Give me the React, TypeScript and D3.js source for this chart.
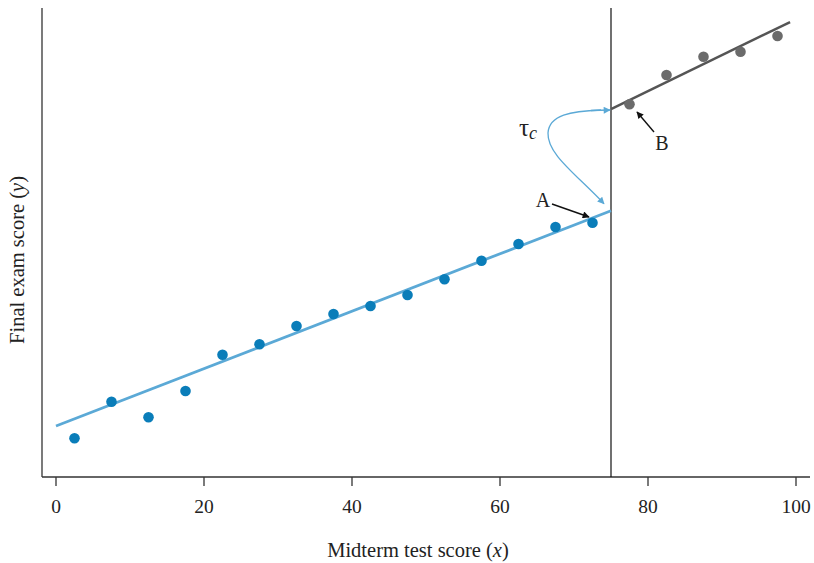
import React from "react";
import * as d3 from "d3";

const blueX = [2.5, 7.5, 12.5, 17.5, 22.5, 27.5, 32.5, 37.5, 42.5, 47.5, 52.5, 57.5, 62.5, 67.5, 72.5];
const blueY = [8.25, 16.06, 12.73, 18.34, 26.08, 28.29, 32.2, 34.75, 36.46, 38.81, 42.16, 46.12, 49.68, 53.3, 54.22];
const grayX = [77.5, 82.5, 87.5, 92.5, 97.5];
const grayY = [79.47, 85.71, 89.62, 90.68, 94.03];
const blueLineX = [0, 75];
const blueLineY = [10.87, 56.78];
const grayLineX = [75, 99.2];
const grayLineY = [78.46, 97.01];
const cutoff = 75;
const xTicks = [0, 20, 40, 60, 80, 100];

const W = 814;
const H = 563;
const FONT = "'Liberation Serif', 'Times New Roman', serif";

export default function App() {
  const x = d3.scaleLinear().domain([0, 100]).range([56, 796]);
  const y = d3.scaleLinear().domain([0, 100]).range([477, 8]);
  const line = d3
    .line<[number, number]>()
    .x((d) => x(d[0]))
    .y((d) => y(d[1]));

  const blueLine = line(blueLineX.map((v, i) => [v, blueLineY[i]] as [number, number]));
  const grayLine = line(grayLineX.map((v, i) => [v, grayLineY[i]] as [number, number]));

  const cx = x(cutoff);
  const topY = y(grayLineY[0]);
  const botY = y(blueLineY[1]);

  // tau_c curved double arrow path
  const curve = d3.path();
  curve.moveTo(cx - 10, topY + 1);
  curve.bezierCurveTo(cx - 40, topY + 2, cx - 62, topY + 6, cx - 63, topY + 24);
  curve.bezierCurveTo(cx - 64, topY + 45, cx - 35, topY + 65, cx - 7, botY - 7);

  return (
    <div style={{ position: "fixed", left: 0, top: 0, width: W, height: H }}>
      <svg width={W} height={H} style={{ display: "block", background: "#fff" }}>
        <defs>
          <marker id="arrBlue" viewBox="0 0 10 10" refX="9" refY="5" markerWidth="10" markerHeight="7" orient="auto" markerUnits="userSpaceOnUse">
            <path d="M0,0 L10,5 L0,10 z" fill="#5ba9d6" />
          </marker>
          <marker id="arrBlack" viewBox="0 0 10 10" refX="9" refY="5" markerWidth="10" markerHeight="7" orient="auto" markerUnits="userSpaceOnUse">
            <path d="M0,0 L10,5 L0,10 z" fill="#111" />
          </marker>
        </defs>

        {/* axes */}
        <line x1={42} y1={8} x2={42} y2={477} stroke="#333" strokeWidth={1.3} />
        <line x1={42} y1={477} x2={810} y2={477} stroke="#333" strokeWidth={1.3} />
        {xTicks.map((t) => (
          <g key={t}>
            <line x1={x(t)} x2={x(t)} y1={477} y2={486} stroke="#333" strokeWidth={1.3} />
            <text x={x(t)} y={513} textAnchor="middle" fontFamily={FONT} fontSize={19.5} fill="#222">
              {t}
            </text>
          </g>
        ))}

        {/* cutoff line */}
        <line x1={cx} x2={cx} y1={8} y2={477} stroke="#111" strokeWidth={1.2} />

        {/* fitted lines */}
        <path d={blueLine ?? ""} fill="none" stroke="#5ba9d6" strokeWidth={2.8} />
        <path d={grayLine ?? ""} fill="none" stroke="#555" strokeWidth={2.5} />

        {/* points */}
        {blueX.map((v, i) => (
          <circle key={"b" + i} cx={x(v)} cy={y(blueY[i])} r={5.3} fill="#0a7db9" />
        ))}
        {grayX.map((v, i) => (
          <circle key={"g" + i} cx={x(v)} cy={y(grayY[i])} r={5.3} fill="#6b6b6b" />
        ))}

        {/* tau_c annotation */}
        <path d={curve.toString()} fill="none" stroke="#5ba9d6" strokeWidth={1.3} markerEnd="url(#arrBlue)" />
        <line x1={cx - 20} y1={topY + 1.5} x2={cx - 1} y2={topY + 1} stroke="#5ba9d6" strokeWidth={1.3} markerEnd="url(#arrBlue)" />
        <text x={519} y={136} fontFamily={FONT} fontSize={25} fill="#222">
          τ
          <tspan fontStyle="italic" fontSize={18} dy={3}>c</tspan>
        </text>

        {/* A */}
        <text x={543} y={207} textAnchor="middle" fontFamily={FONT} fontSize={20} fill="#222">A</text>
        <line x1={552} y1={204} x2={589} y2={217} stroke="#111" strokeWidth={1.4} markerEnd="url(#arrBlack)" />

        {/* B */}
        <text x={662} y={150} textAnchor="middle" fontFamily={FONT} fontSize={20} fill="#222">B</text>
        <line x1={654} y1={132} x2={637} y2={112} stroke="#111" strokeWidth={1.4} markerEnd="url(#arrBlack)" />

        {/* axis titles */}
        <text x={418} y={557} textAnchor="middle" fontFamily={FONT} fontSize={20.5} fill="#222">
          Midterm test score (<tspan fontStyle="italic">x</tspan>)
        </text>
        <text transform="translate(24,260) rotate(-90)" textAnchor="middle" fontFamily={FONT} fontSize={20.5} fill="#222">
          Final exam score (<tspan fontStyle="italic">y</tspan>)
        </text>
      </svg>
    </div>
  );
}
